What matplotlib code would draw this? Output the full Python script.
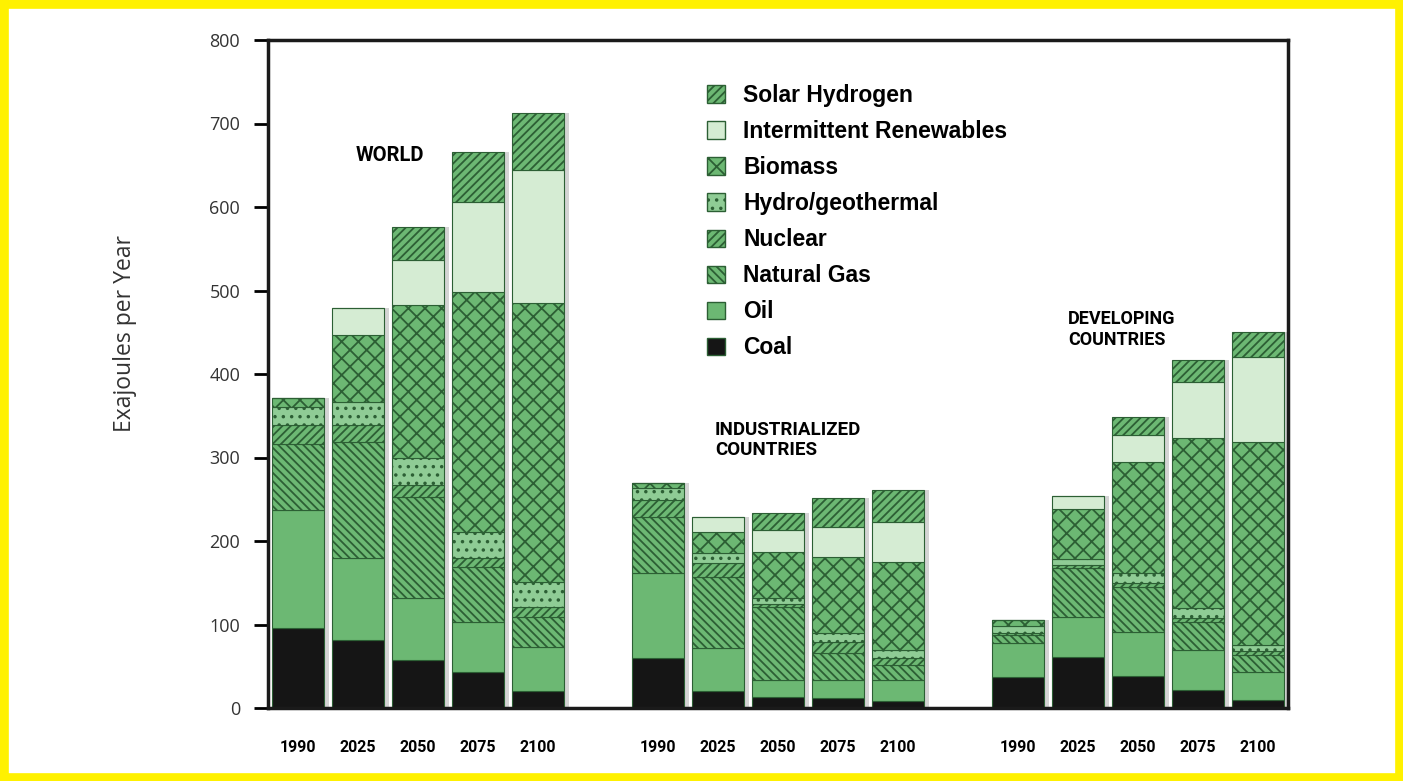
import matplotlib.pyplot as plt
import numpy as np
from matplotlib.patches import Patch, Rectangle

# years per region, bars ordered World / Industrialized / Developing
years = ["1990", "2025", "2050", "2075", "2100"]
regions = ["WORLD", "INDUSTRIALIZED\nCOUNTRIES", "DEVELOPING\nCOUNTRIES"]

# Exajoules per year (World x5, Industrialized x5, Developing x5)
coal = [96, 81, 58, 43, 20, 60, 20, 13, 12, 8, 37, 61, 38, 22, 10]
oil = [141, 99, 74, 60, 53, 102, 52, 21, 22, 26, 41, 48, 53, 47, 33]
natural_gas = [79, 139, 121, 66, 36, 67, 85, 87, 32, 17, 9, 59, 54, 34, 20]
nuclear = [23, 20, 14, 11, 12, 20, 17, 3, 13, 9, 3, 3, 5, 5, 5]
hydro = [21, 27, 32, 31, 30, 14, 12, 8, 11, 9, 8, 7, 12, 12, 7]
biomass = [11, 81, 184, 287, 334, 6, 25, 55, 91, 106, 7, 60, 133, 203, 244]
intermittent = [0, 32, 53, 108, 159, 0, 18, 26, 36, 48, 0, 16, 32, 67, 101]
solar_h2 = [0, 0, 40, 60, 68, 0, 0, 20, 34, 38, 0, 0, 21, 27, 30]

GREEN = "#6cb873"
PALE = "#d5ecd3"
EDGE = "#2c5f34"

series = [
    ("Coal", coal, "#151515", ""),
    ("Oil", oil, GREEN, ""),
    ("Natural Gas", natural_gas, GREEN, "\\\\\\\\"),
    ("Nuclear", nuclear, GREEN, "////"),
    ("Hydro/geothermal", hydro, "#8fcc95", ".."),
    ("Biomass", biomass, GREEN, "xx"),
    ("Intermittent Renewables", intermittent, PALE, ""),
    ("Solar Hydrogen", solar_h2, GREEN, "////"),
]

plt.rcParams["hatch.linewidth"] = 1.3
plt.rcParams["hatch.color"] = EDGE

bold = ["Roboto", "DejaVu Sans"]
sans = ["Liberation Sans", "DejaVu Sans"]
light = ["Open Sans", "DejaVu Sans"]

fig = plt.figure(figsize=(14.03, 7.81), dpi=100)
ax = fig.add_axes([268 / 1403, 1 - 708 / 781, 1020 / 1403, 668 / 781])

x = np.concatenate([np.arange(5) + 6 * g for g in range(3)])
width = 0.87
totals = np.sum([s[1] for s in series], axis=0)

# soft shadow behind each stack
ax.bar(x + 0.08, totals, width=width, color="#a0a0a0", alpha=0.45, zorder=1, linewidth=0)

bottom = np.zeros(len(x))
handles = []
for name, vals, face, hatch in series:
    vals = np.array(vals, dtype=float)
    ax.bar(x, vals, width=width, bottom=bottom, color=face, edgecolor=EDGE,
           hatch=hatch, linewidth=0.8, zorder=2)
    bottom += vals
    handles.append(Patch(facecolor=face, edgecolor=EDGE, hatch=hatch, label=name))

ax.set_xlim(-0.5, 16.5)
ax.set_ylim(0, 800)
ax.set_yticks(range(0, 801, 100))
ax.set_xticks(x)
ax.set_xticklabels(years * 3, family=bold, weight="bold", fontsize=11.5)
ax.tick_params(axis="x", length=0, pad=23)
ax.tick_params(axis="y", length=10, width=2, pad=10, labelsize=13, labelcolor="#333333")
for lab in ax.get_yticklabels():
    lab.set_family(light)
for sp in ax.spines.values():
    sp.set_linewidth(2.5)
    sp.set_color("#1a1a1a")

ax.set_ylabel("Exajoules per Year", fontsize=16.5, family=light, color="#333333")
ax.yaxis.set_label_coords(-0.128, 0.56)

# region titles
ax.text(1.53, 662, regions[0], ha="center", va="center", family=bold, weight="bold", fontsize=14.5)
ax.text(6.95, 321, regions[1], ha="left", va="center", family=bold, weight="bold", fontsize=13.5,
        linespacing=1.2)
ax.text(12.83, 453, regions[2], ha="left", va="center", family=bold, weight="bold", fontsize=13,
        linespacing=1.2)

ax.legend(handles[::-1], [h.get_label() for h in handles[::-1]], loc="upper left",
          bbox_to_anchor=(0.41, 0.965), frameon=False,
          prop=dict(family=sans, weight="bold", size=16.5),
          handlelength=0.8, handleheight=0.8, handletextpad=0.8, labelspacing=0.57)

# yellow page border
fig.add_artist(Rectangle((0, 0), 1, 1, transform=fig.transFigure, fill=False,
                         edgecolor="#fff100", linewidth=12))

fig.savefig("out.png", dpi=100)
